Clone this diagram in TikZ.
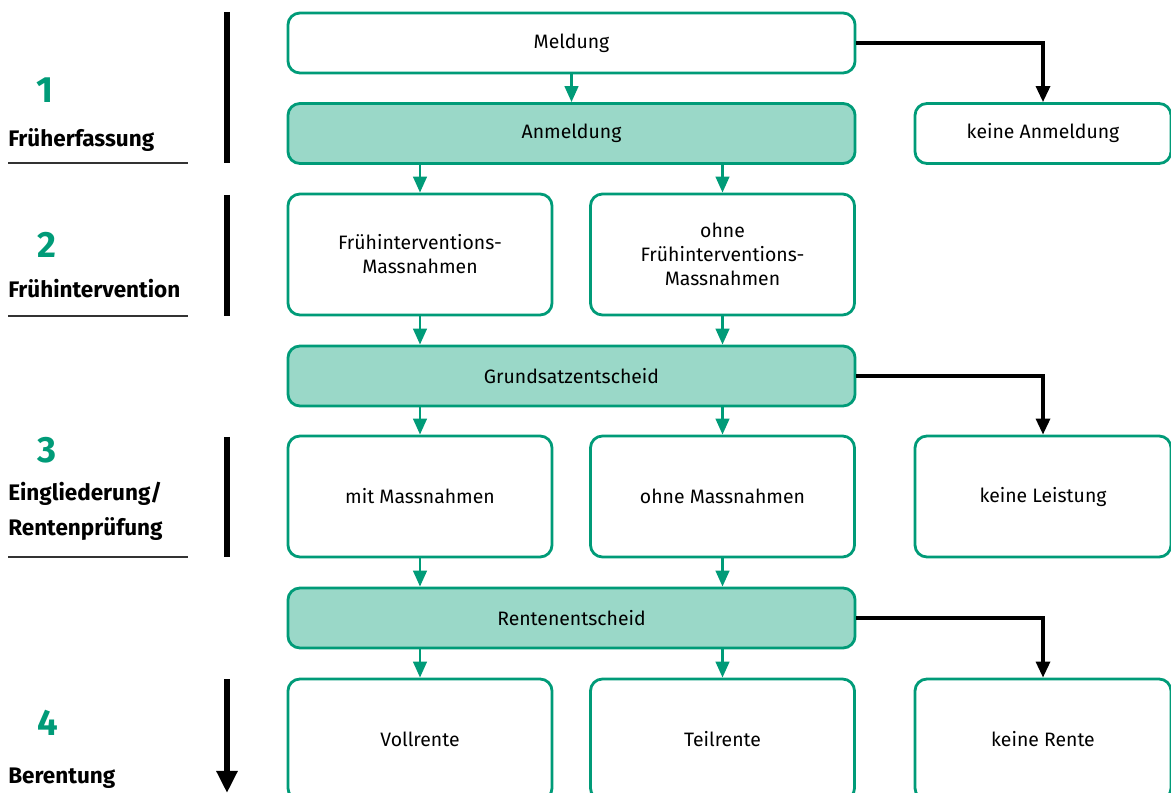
\documentclass[tikz,border=0pt]{standalone}
\usepackage{fontspec}
\setmainfont{Fira Sans}
\usetikzlibrary{arrows.meta, positioning}
\definecolor{ivgreen}{RGB}{0,155,120}
\definecolor{ivlight}{RGB}{154,216,200}

\tikzset{
  box/.style={draw=ivgreen, line width=0.07cm, rounded corners=0.3cm, fill=white,
    align=center, inner sep=0pt, font=\fontsize{13.8}{17}\selectfont},
  widebox/.style={box, minimum width=14.175cm, minimum height=1.5cm},
  keybox/.style={widebox, fill=ivlight},
  halfbox/.style={box, minimum width=6.6cm, minimum height=3.025cm},
  sidebox/.style={box, minimum width=6.4cm},
  garrow/.style={draw=ivgreen, line width=0.065cm, -{Triangle[length=0.4cm, width=0.34cm]}},
  barrow/.style={draw=black, line width=0.08cm, -{Triangle[length=0.4cm, width=0.35cm]}},
  phasenum/.style={anchor=base west, inner sep=0pt, text=ivgreen, font=\bfseries\fontsize{26}{30}\selectfont},
  phase/.style={anchor=base west, inner sep=0pt, align=left, font=\bfseries\fontsize{16}{24.5}\selectfont},
  rule/.style={draw=black!80, line width=0.045cm},
  bar/.style={draw=black, line width=0.14cm}
}

\begin{document}
\begin{tikzpicture}[x=0.025cm, y=-0.025cm]
        \useasboundingbox (0,0) rectangle (1171,793);
        \clip (0,0) rectangle (1171,793);

        % phases on the left
        \node[phasenum] (n1) at (36,103) {1};
        \node[phase] (p1) at (8,147) {Früherfassung};
        \draw[rule] (8,163) -- (188,163);
        \draw[bar] (227,12) -- (227,163);

        \node[phasenum] (n2) at (37,258) {2};
        \node[phase] (p2) at (8,298) {Frühintervention};
        \draw[rule] (8,316) -- (188,316);
        \draw[bar] (227,195) -- (227,316);

        \node[phasenum] (n3) at (37,462) {3};
        \node[phase] (p3) at (8,535) {Eingliederung/\\Rentenprüfung};
        \draw[rule] (8,557) -- (188,557);
        \draw[bar] (227,437) -- (227,557);

        \node[phasenum] (n4) at (37,735) {4};
        \node[phase] (p4) at (8,783) {Berentung};
        \draw[bar, -{Triangle[length=0.55cm, width=0.5cm]}] (227,679) -- (227,793);

        % boxes
        \node[widebox] (meld) at (571.5,43) {Meldung};
        \node[keybox] (anm) at (571.5,133.5) {Anmeldung};
        \node[sidebox, minimum height=1.5cm] (kan) at (1043,133.5) {keine Anmeldung};

        \node[halfbox] (fim) at (420,254.5) {Frühinterventions-\\Massnahmen};
        \node[halfbox] (ofim) at (722.5,254.5) {ohne\\Frühinterventions-\\Massnahmen};

        \node[keybox] (gse) at (571.5,376) {Grundsatzentscheid};
        \node[halfbox] (mit) at (420,496.5) {mit Massnahmen};
        \node[halfbox] (ohne) at (722.5,496.5) {ohne Massnahmen};
        \node[sidebox, minimum height=3.025cm] (kl) at (1043,496.5) {keine Leistung};

        \node[keybox] (ree) at (571.5,618) {Rentenentscheid};
        \node[halfbox] (voll) at (420,739.5) {Vollrente};
        \node[halfbox] (teil) at (722.5,739.5) {Teilrente};
        \node[sidebox, minimum height=3.025cm] (kr) at (1043,739.5) {keine Rente};

        % green arrows
        \draw[garrow] (meld) -- (anm);
        \draw[garrow] (anm.south -| fim) -- (fim);
        \draw[garrow] (anm.south -| ofim) -- (ofim);
        \draw[garrow] (fim) -- (fim |- gse.north);
        \draw[garrow] (ofim) -- (ofim |- gse.north);
        \draw[garrow] (gse.south -| mit) -- (mit);
        \draw[garrow] (gse.south -| ohne) -- (ohne);
        \draw[garrow] (mit) -- (mit |- ree.north);
        \draw[garrow] (ohne) -- (ohne |- ree.north);
        \draw[garrow] (ree.south -| voll) -- (voll);
        \draw[garrow] (ree.south -| teil) -- (teil);

        % black arrows
        \draw[barrow] (meld) -| (kan);
        \draw[barrow] (gse) -| (kl);
        \draw[barrow] (ree) -| (kr);
    \end{tikzpicture}
\end{document}
